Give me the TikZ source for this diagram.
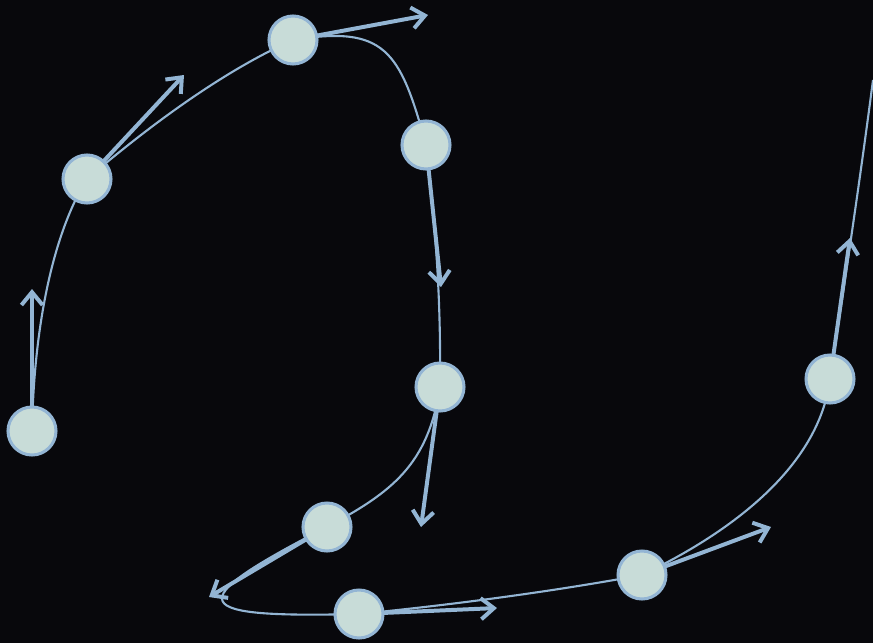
\documentclass[tikz,border=0pt]{standalone}
\usepackage{xcolor}
\usepackage{tikz}
\usetikzlibrary{arrows.meta}

\definecolor{bgdark}{RGB}{8,8,12}
\definecolor{curveblue}{RGB}{147,181,212}
\definecolor{dotfill}{RGB}{200,220,216}

\begin{document}
\begin{tikzpicture}[
  x=0.03cm, y=-0.03cm,
  dot/.style={circle, draw=curveblue, fill=dotfill, line width=2.6pt, minimum size=1.44cm, inner sep=0pt},
  curve/.style={draw=curveblue, line width=1.8pt},
  tangent/.style={draw=curveblue, line width=3.4pt, -{Straight Barb[length=11pt, width=18pt]}}
]

% Background
\fill[bgdark] (0,0) rectangle (873,643);
\useasboundingbox (0,0) rectangle (873,643);

% Points on the curve
\coordinate (p1) at (32,431);
\coordinate (p2) at (87,179);
\coordinate (p3) at (293,40);
\coordinate (p4) at (426,145);
\coordinate (p5) at (440,387);
\coordinate (p6) at (327,527);
\coordinate (p7) at (359,614);
\coordinate (p8) at (642,575);
\coordinate (p9) at (830,379);
\coordinate (pend) at (873,80);

% Tips of the tangent arrows
\coordinate (t1) at (32,289);
\coordinate (t2) at (184,75);
\coordinate (t3) at (428,15);
\coordinate (t4) at (441,287);
\coordinate (t5) at (421,527);
\coordinate (t6) at (209,597);
\coordinate (t7) at (497,608);
\coordinate (t8) at (771,527);
\coordinate (t9) at (850,238);

% Curve
\draw[curve] (p1) .. controls (34,320) and (55,230) .. (p2)
  .. controls (150,125) and (225,70) .. (p3)
  .. controls (385,25) and (400,50) .. (p4)
  .. controls (436,230) and (441,300) .. (p5)
  .. controls (428,465) and (392,492) .. (p6)
  .. controls (175,605) and (190,618) .. (p7)
  .. controls (450,605) and (550,592) .. (p8)
  .. controls (715,540) and (818,475) .. (p9)
  .. controls (845,280) and (860,180) .. (pend);

% Tangent arrows
\draw[tangent] (p1) -- (t1);
\draw[tangent] (p2) -- (t2);
\draw[tangent] (p3) -- (t3);
\draw[tangent] (p4) -- (t4);
\draw[tangent] (p5) -- (t5);
\draw[tangent] (p6) -- (t6);
\draw[tangent] (p7) -- (t7);
\draw[tangent] (p8) -- (t8);
\draw[tangent] (p9) -- (t9);

% Dots
\node (n1) [dot] at (p1) {};
\node (n2) [dot] at (p2) {};
\node (n3) [dot] at (p3) {};
\node (n4) [dot] at (p4) {};
\node (n5) [dot] at (p5) {};
\node (n6) [dot] at (p6) {};
\node (n7) [dot] at (p7) {};
\node (n8) [dot] at (p8) {};
\node (n9) [dot] at (p9) {};

\end{tikzpicture}
\end{document}
